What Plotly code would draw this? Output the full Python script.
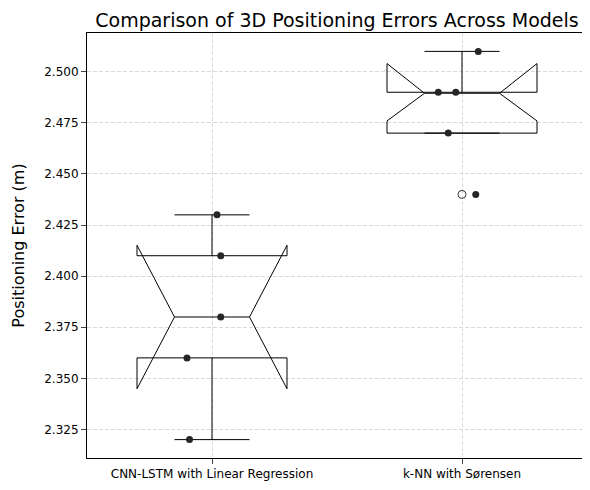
import numpy as np
import plotly.graph_objects as go

models = ["CNN-LSTM with Linear Regression", "k-NN with Sørensen"]
cnn_vals = [2.32, 2.36, 2.38, 2.41, 2.43]
knn_vals = [2.44, 2.47, 2.49, 2.49, 2.51]
cnn_jitter = [-0.09, -0.10, 0.035, 0.035, 0.02]
knn_jitter = [0.055, -0.055, -0.095, -0.025, 0.065]
knn_outliers = [2.44]

fig = go.Figure()
for i, vals in enumerate([cnn_vals, knn_vals]):
    v = np.array(vals)
    q1, med, q3 = np.percentile(v, [25, 50, 75])
    iqr = q3 - q1
    lo = v[v >= q1 - 1.5 * iqr + 1e-9].min()
    hi = v[v <= q3 + 1.5 * iqr - 1e-9].max()
    ns = 1.57 * iqr / np.sqrt(len(v))
    fig.add_trace(go.Box(x=[i], q1=[q1], median=[med], q3=[q3], lowerfence=[lo], upperfence=[hi],
                         notchspan=[ns], width=0.6, notched=True, notchwidth=0.25,
                         boxpoints=False, whiskerwidth=0.5,
                         fillcolor="rgba(0,0,0,0)", line=dict(color="black", width=1),
                         showlegend=False))
for i, (vals, jit) in enumerate([(cnn_vals, cnn_jitter), (knn_vals, knn_jitter)]):
    fig.add_trace(go.Scatter(x=[i + j for j in jit], y=vals, mode="markers",
                             marker=dict(color="#262626", size=7), showlegend=False))
fig.add_trace(go.Scatter(x=[1]*len(knn_outliers), y=knn_outliers, mode="markers",
                         marker=dict(color="rgba(0,0,0,0)", size=8, line=dict(color="#333", width=1)),
                         showlegend=False))

fig.update_layout(
    width=590, height=490, plot_bgcolor="white", paper_bgcolor="white",
    margin=dict(l=76, r=10, t=25, b=40),
    font=dict(family="DejaVu Sans", size=12, color="black"),
    title=dict(text="Comparison of 3D Positioning Errors Across Models", x=0.5, xref="paper",
               xanchor="center", y=0.975, yanchor="middle", font=dict(size=19)),
)
fig.update_xaxes(range=[-0.5, 1.5], tickvals=[0, 1], ticktext=models, showline=True, mirror=True,
                 linecolor="black", ticks="outside", showgrid=True, gridcolor="#d9d9d9",
                 griddash="4px,2px", zeroline=False)
fig.update_yaxes(range=[2.311, 2.519], dtick=0.025, tickformat=".3f", showline=True, mirror=True,
                 linecolor="black", ticks="outside", showgrid=True, gridcolor="#d9d9d9",
                 griddash="4px,2px", zeroline=False,
                 title=dict(text="Positioning Error (m)", font=dict(size=16)))
fig.write_html("out.html")
